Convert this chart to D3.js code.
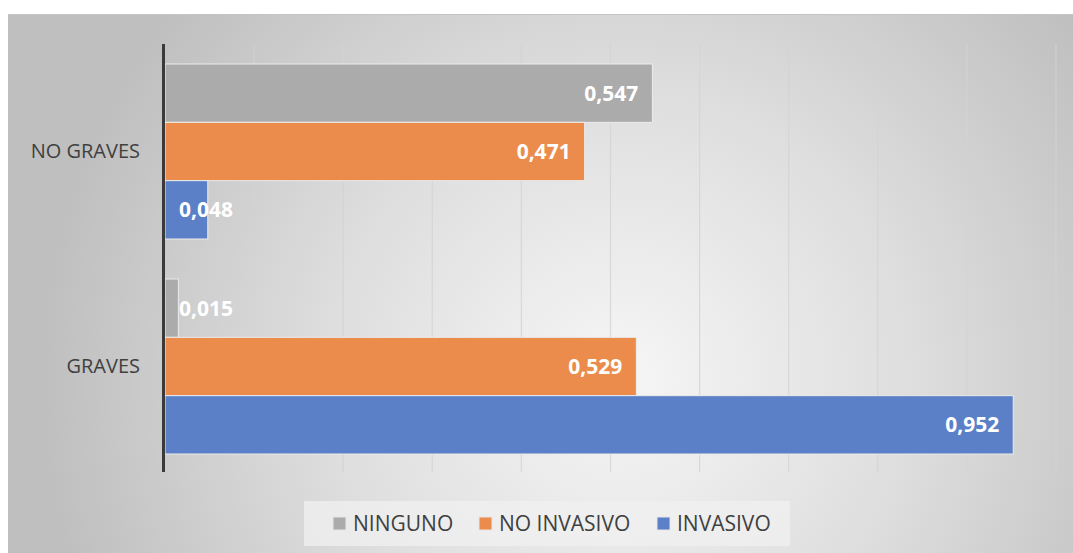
<!DOCTYPE html>
<html>
<head>
<meta charset="utf-8">
<script src="https://cdn.jsdelivr.net/npm/d3@7"></script>
<style>
    html, body { margin: 0; padding: 0; background: #ffffff; }
    svg { display: block; font-family: "Open Sans", "Noto Sans", sans-serif; }
</style>
</head>
<body>
<svg id="chart" width="1073" height="553"></svg>
<script>
/***************************************************************
    Data
****************************************************************/
const categories = ["NO GRAVES", "GRAVES"];
const seriesNames = ["NINGUNO", "NO INVASIVO", "INVASIVO"];
const ninguno = [0.547, 0.015];
const noInvasivo = [0.471, 0.529];
const invasivo = [0.048, 0.952];
const xTicks = [0, 0.1, 0.2, 0.3, 0.4, 0.5, 0.6, 0.7, 0.8, 0.9, 1.0];

const seriesValues = [ninguno, noInvasivo, invasivo];
const colors = ["#ababab", "#ec8c4c", "#5b80c7"];

/***************************************************************
    Layout
****************************************************************/
const svg = d3.select("#chart");
const W = 1073, H = 553;
const plot = { left: 165, right: 1056, top: 44, bottom: 474 };

const defs = svg.append("defs");
const grad = defs.append("radialGradient")
    .attr("id", "bg").attr("gradientUnits", "userSpaceOnUse")
    .attr("cx", 620).attr("cy", 380).attr("r", 580);
grad.append("stop").attr("offset", "0%").attr("stop-color", "#f6f6f6");
grad.append("stop").attr("offset", "50%").attr("stop-color", "#dedede");
grad.append("stop").attr("offset", "100%").attr("stop-color", "#bfbfbf");

// chart area
svg.append("rect").attr("x", 8).attr("y", 14).attr("width", W - 8).attr("height", H - 14)
    .attr("fill", "url(#bg)");
svg.append("line").attr("x1", 8).attr("x2", W).attr("y1", 14.5).attr("y2", 14.5)
    .attr("stroke", "#c4c4c4").attr("stroke-width", 1);

const x = d3.scaleLinear().domain([0, 1]).range([plot.left, plot.right]);
const y = d3.scaleBand().domain(categories).range([plot.top, plot.bottom]).paddingInner(0.186).paddingOuter(0.093);
const ySub = d3.scaleBand().domain(seriesNames).range([0, y.bandwidth()]);

// gridlines
svg.append("g").selectAll("line").data(xTicks.slice(1)).enter().append("line")
    .attr("x1", d => x(d)).attr("x2", d => x(d))
    .attr("y1", plot.top).attr("y2", plot.bottom - 2)
    .attr("stroke", "#d4d4d4").attr("stroke-width", 1.2).attr("opacity", 0.8);

// bars
const groups = svg.append("g").selectAll("g").data(categories).enter().append("g")
    .attr("transform", d => `translate(0,${y(d)})`);

groups.each(function (cat, ci) {
    const g = d3.select(this);
    seriesNames.forEach((s, si) => {
        const v = seriesValues[si][ci];
        g.append("rect")
            .attr("x", x(0)).attr("y", ySub(s))
            .attr("width", x(v) - x(0)).attr("height", ySub.bandwidth())
            .attr("fill", colors[si])
            .attr("stroke", "#ececec").attr("stroke-width", 1);
        const label = d3.format(".3f")(v).replace(".", ",");
        const endX = x(v) - 14;
        const startMin = x(0) + 14;
        const txt = g.append("text")
            .attr("y", ySub(s) + ySub.bandwidth() / 2)
            .attr("dy", "0.35em")
            .attr("fill", "#ffffff").attr("font-weight", "bold").attr("font-size", 21)
            .text(label);
        const w = txt.node().getComputedTextLength();
        if (endX - w < startMin) txt.attr("x", startMin).attr("text-anchor", "start");
        else txt.attr("x", endX).attr("text-anchor", "end");
    });
});

// axis line
svg.append("line").attr("x1", plot.left - 1.5).attr("x2", plot.left - 1.5)
    .attr("y1", plot.top).attr("y2", plot.bottom - 2)
    .attr("stroke", "#3a3a3a").attr("stroke-width", 3);

// category labels
const yAxis = svg.append("g").attr("transform", `translate(${plot.left - 25},0)`)
    .call(d3.axisLeft(y).tickSize(0).tickPadding(0));
yAxis.select(".domain").remove();
yAxis.selectAll("text").attr("font-size", 20).attr("fill", "#404040")
    .attr("font-family", "\"Open Sans\", sans-serif");

// legend
const legend = svg.append("g");
legend.append("rect").attr("x", 304).attr("y", 501).attr("width", 486).attr("height", 45)
    .attr("fill", "#f0f0f0").attr("opacity", 0.75);
const legendX = [333, 479, 657];
seriesNames.forEach((s, i) => {
    legend.append("rect").attr("x", legendX[i]).attr("y", 517).attr("width", 13).attr("height", 13)
        .attr("fill", colors[i]).attr("stroke", "#e6e6e6").attr("stroke-width", 1);
    legend.append("text").attr("x", legendX[i] + 20).attr("y", 524).attr("dy", "0.35em")
        .attr("font-size", 21).attr("fill", "#404040").text(s);
});
</script>
</body>
</html>
